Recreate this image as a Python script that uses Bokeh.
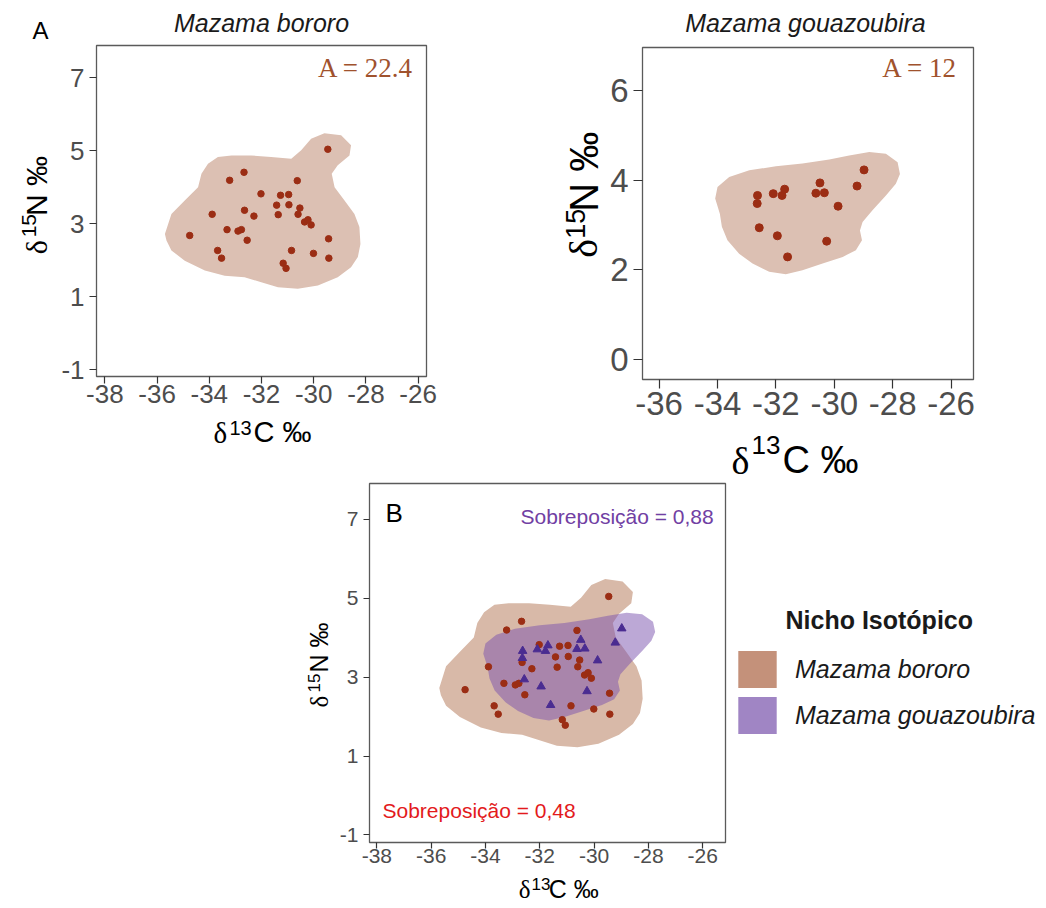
import math
from bokeh.plotting import figure
from bokeh.models import Range1d, FixedTicker, Label, Legend, LegendItem, Spacer
from bokeh.layouts import column, row
from bokeh.embed import file_html
from bokeh.resources import INLINE

# ---------------- data ----------------
bororo_d13C = [-34.75, -33.89, -33.68, -33.53, -33.32, -33.22, -32.90, -32.77, -32.67, -32.65,
               -32.55, -32.29, -32.02, -31.42, -31.36, -31.27, -30.96, -30.95, -31.17, -31.06,
               -30.85, -30.63, -30.53, -30.60, -30.35, -30.22, -30.10, -30.01, -29.46, -29.43, -29.42]
bororo_d15N = [2.68, 3.26, 2.27, 2.06, 2.84, 4.19, 2.80, 2.84, 4.41, 3.37,
               2.55, 3.21, 3.82, 3.51, 3.25, 3.78, 3.80, 3.52, 1.92, 1.78,
               2.27, 4.18, 3.43, 3.26, 3.05, 3.11, 2.97, 2.19, 5.04, 2.59, 2.06]

gouaz_d13C = [-32.63, -32.64, -32.09, -31.79, -31.70, -32.57, -31.95, -31.60, -30.49, -30.63,
              -30.34, -29.87, -30.26, -29.22, -28.98]
gouaz_d15N = [3.66, 3.48, 3.70, 3.66, 3.80, 2.94, 2.76, 2.29, 3.94, 3.71,
              3.72, 3.42, 2.64, 3.87, 4.23]

# niche outlines (density contour) in data units
bororo_niche_x = [-35.70, -35.45, -34.94, -34.43, -34.30, -34.05, -33.67, -33.15, -32.39, -31.63,
                  -30.86, -30.48, -30.10, -29.59, -28.95, -28.57, -28.63, -29.08, -29.31, -29.20,
                  -28.82, -28.44, -28.25, -28.21, -28.31, -28.57, -29.08, -29.84, -30.61, -31.37,
                  -32.01, -32.65, -33.41, -34.17, -34.94, -35.45, -35.64]
bororo_niche_y = [2.72, 3.27, 3.64, 4.00, 4.37, 4.64, 4.83, 4.87, 4.87, 4.83,
                  4.78, 5.01, 5.33, 5.48, 5.42, 5.15, 4.87, 4.60, 4.37, 4.00,
                  3.64, 3.27, 2.91, 2.45, 2.09, 1.81, 1.54, 1.31, 1.22, 1.26,
                  1.40, 1.54, 1.58, 1.72, 1.99, 2.27, 2.54]

gouaz_niche_x = [-34.08, -34.00, -33.60, -32.91, -32.00, -31.09, -30.17, -29.49, -28.80, -28.23,
                 -27.83, -27.75, -27.89, -28.23, -28.69, -29.03, -29.12, -29.05, -29.26, -29.71,
                 -30.40, -31.09, -31.66, -32.23, -32.80, -33.26, -33.66, -33.85, -33.92]
gouaz_niche_y = [3.59, 3.85, 4.07, 4.22, 4.31, 4.37, 4.46, 4.55, 4.63, 4.59,
                 4.40, 4.14, 3.92, 3.66, 3.33, 3.07, 2.88, 2.66, 2.44, 2.29,
                 2.14, 1.99, 1.90, 1.96, 2.14, 2.36, 2.66, 2.96, 3.25]

species = ["Mazama bororo", "Mazama gouazoubira"]
area_text = ["A = 22.4", "A = 12"]
overlap_text = ["Sobreposição = 0,88", "Sobreposição = 0,48"]
legend_title = "Nicho Isotópico"

ticks_x_A1 = [-38, -36, -34, -32, -30, -28, -26]
ticks_y_A1 = [-1, 1, 3, 5, 7]
ticks_x_A2 = [-36, -34, -32, -30, -28, -26]
ticks_y_A2 = [0, 2, 4, 6]
ticks_x_B = [-38, -36, -34, -32, -30, -28, -26]
ticks_y_B = [-1, 1, 3, 5, 7]

# ---------------- styles ----------------
SANS = "Liberation Sans"
SERIF = "Liberation Serif"
BRO_FILL = "#dcc0b3"
BRO_FILL_B = "#d8b9a8"
BRO_PT = "#9b2d14"
GOU_FILL_B = "#7a52ae"
GOU_PT = "#4a2c91"
TXT_BROWN = "#a0522d"
TXT_PURPLE = "#7140a3"
TXT_RED = "#e31a1c"
TICK_GREY = "#4d4d4d"
VERT = math.pi / 2


def make_fig(xr, yr, fw, fh, bl, br, bt, bb):
    p = figure(x_range=Range1d(*xr), y_range=Range1d(*yr), title=None,
               frame_width=fw, frame_height=fh,
               min_border_left=bl, min_border_right=br, min_border_top=bt, min_border_bottom=bb,
               output_backend="svg", toolbar_location=None, tools="")
    p.xgrid.visible = False
    p.ygrid.visible = False
    p.background_fill_color = "white"
    p.border_fill_color = "white"
    p.outline_line_color = "#5a5a5a"
    p.outline_line_width = 1.3
    return p


def style_axes(p, xt, yt, size, tick_out, xstand, ystand):
    for ax, t in ((p.xaxis[0], xt), (p.yaxis[0], yt)):
        ax.ticker = FixedTicker(ticks=t)
        ax.major_label_overrides = {v: str(v) for v in t}
        ax.axis_line_color = None
        ax.major_tick_in = 0
        ax.major_tick_out = tick_out
        ax.major_tick_line_color = "#333333"
        ax.major_tick_line_width = 1.2
        ax.minor_tick_line_color = None
        ax.major_label_text_font = SANS
        ax.major_label_text_font_size = f"{size}px"
        ax.major_label_text_color = TICK_GREY
    p.xaxis[0].major_label_standoff = xstand
    p.yaxis[0].major_label_standoff = ystand


def strip(w, h):
    s = figure(width=w, height=h, x_range=Range1d(0, w), y_range=Range1d(0, h), title=None,
               min_border=0, x_axis_type=None, y_axis_type=None,
               output_backend="svg", toolbar_location=None, tools="")
    s.outline_line_color = None
    s.background_fill_color = "white"
    s.border_fill_color = "white"
    return s


def mid_shift(size, font):
    # distance from the alphabetic baseline up to the middle of the em box
    return (0.34 if font == SERIF else 0.35) * size


def lab(xl, yl, text, size, font=SANS, style="normal", color="#000000",
        align="left", angle=0.0):
    return Label(x=xl, y=yl, x_units="data", y_units="data", text=text,
                 text_font=font, text_font_size=f"{size}px", text_font_style=style,
                 text_color=color, text_align=align, text_baseline="middle", angle=angle)


def put_strip(s, box, px, py, text, size, font=SANS, angle=0.0, **kw):
    # box = (page left, page top, height) of the strip; (px, py) = baseline start
    left, top, h = box
    k = mid_shift(size, font)
    xl, yl = px - left, top + h - py
    if angle == 0.0:
        yl += k
    else:
        xl -= k
    s.add_layout(lab(xl, yl, text, size, font=font, angle=angle, **kw))


def put(p, frame, px, py, text, size, font=SANS, **kw):
    # frame = (page left, page bottom) of a plot frame; (px, py) = baseline point
    fl, fb = frame
    lb = lab(p.x_range.start, p.y_range.start, text, size, font=font, **kw)
    lb.x_offset = px - fl
    lb.y_offset = fb - py + mid_shift(size, font)
    p.add_layout(lb)


# ---------------- panel A1 : Mazama bororo ----------------
F1 = (96, 376)
p1 = make_fig((-38.32, -25.68), (-1.18, 7.88), 330, 331, 42, 124, 2, 38)
style_axes(p1, ticks_x_A1, ticks_y_A1, 26, 7, 1, 5)
p1.patch(bororo_niche_x, bororo_niche_y, fill_color=BRO_FILL, line_color=None)
p1.scatter(bororo_d13C, bororo_d15N, size=6.5, color=BRO_PT)
put(p1, F1, 413, 77, area_text[0], 27, font=SERIF, color=TXT_BROWN, align="right")

HA_box = (0, 0, 43)
HA = strip(550, 43)
put_strip(HA, HA_box, 32, 38, "A", 24)
put_strip(HA, HA_box, 261, 31, species[0], 25, style="italic", color="#1a1a1a", align="center")

YL1_box = (0, 43, 371)
YL1 = strip(54, 371)
put_strip(YL1, YL1_box, 46, 277, "δ", 30, font=SERIF, angle=VERT)
put_strip(YL1, YL1_box, 36, 258, "15", 21, angle=VERT)
put_strip(YL1, YL1_box, 46, 234, "N ‰", 30, angle=VERT)

XL1_box = (0, 414, 68)
XL1 = strip(550, 68)
put_strip(XL1, XL1_box, 213, 442, "δ", 29, font=SERIF)
put_strip(XL1, XL1_box, 229, 434, "13", 20)
put_strip(XL1, XL1_box, 253, 442, "C ‰", 29)

# ---------------- panel A2 : Mazama gouazoubira ----------------
F2 = (640, 379)
p2 = make_fig((-36.57, -25.23), (-0.445, 6.96), 331, 332, 33, 30, 2, 48)
style_axes(p2, ticks_x_A2, ticks_y_A2, 33, 9, 3, 5)
p2.patch(gouaz_niche_x, gouaz_niche_y, fill_color=BRO_FILL, line_color=None)
p2.scatter(gouaz_d13C, gouaz_d15N, size=8, color=BRO_PT)
put(p2, F2, 955, 77, area_text[1], 27, font=SERIF, color=TXT_BROWN, align="right")

HB_box = (550, 0, 45)
HB = strip(451, 45)
put_strip(HB, HB_box, 805, 31, species[1], 25, style="italic", color="#1a1a1a", align="center")

YL2_box = (550, 45, 382)
YL2 = strip(57, 382)
put_strip(YL2, YL2_box, 597, 287, "δ", 40, font=SERIF, angle=VERT)
put_strip(YL2, YL2_box, 584, 265, "15", 27, angle=VERT)
put_strip(YL2, YL2_box, 597, 234, "N ‰", 40, angle=VERT)

XL2_box = (550, 427, 55)
XL2 = strip(451, 55)
put_strip(XL2, XL2_box, 731, 473, "δ", 38, font=SERIF)
put_strip(XL2, XL2_box, 751, 454, "13", 26)
put_strip(XL2, XL2_box, 782, 473, "C ‰", 38)

# ---------------- panel B : overlap ----------------
F3 = (367, 842)
p3 = make_fig((-38.27, -25.16), (-1.19, 7.90), 356, 359, 31, 2, 1, 30)
style_axes(p3, ticks_x_B, ticks_y_B, 21, 6, 0, 5)
p3.patch(bororo_niche_x, bororo_niche_y, fill_color=BRO_FILL_B, line_color=None)
p3.patch(gouaz_niche_x, gouaz_niche_y, fill_color=GOU_FILL_B, fill_alpha=0.5, line_color=None)
p3.scatter(bororo_d13C, bororo_d15N, size=6.5, color=BRO_PT)
p3.scatter(gouaz_d13C, gouaz_d15N, size=8.5, marker="triangle", color=GOU_PT)
put(p3, F3, 383, 522, "B", 26)
put(p3, F3, 518, 523, overlap_text[0], 21, color=TXT_PURPLE)
put(p3, F3, 380, 817, overlap_text[1], 21, color=TXT_RED)

YL3_box = (296, 482, 390)
YL3 = strip(40, 390)
put_strip(YL3, YL3_box, 327, 707, "δ", 25, font=SERIF, angle=VERT)
put_strip(YL3, YL3_box, 319, 692, "15", 17, angle=VERT)
put_strip(YL3, YL3_box, 327, 672, "N ‰", 25, angle=VERT)

XL3_box = (336, 872, 34)
XL3 = strip(389, 34)
put_strip(XL3, XL3_box, 500, 897, "δ", 25, font=SERIF)
put_strip(XL3, XL3_box, 514, 889, "13", 17)
put_strip(XL3, XL3_box, 533, 897, "C ‰", 25)

LEG_box = (725, 482, 390)
LEG = strip(316, 390)
put_strip(LEG, LEG_box, 783, 628, legend_title, 25, style="bold", color="#1a1a1a")
nan = float("nan")
key_b = LEG.patch(x=[nan], y=[nan], fill_color="#c4917a", line_color=None)
key_g = LEG.patch(x=[nan], y=[nan], fill_color="#a085c4", line_color=None)
legend = Legend(items=[LegendItem(label=species[0], renderers=[key_b]),
                       LegendItem(label=species[1], renderers=[key_g])],
                location=(6, 134), glyph_width=48, glyph_height=46, spacing=0,
                label_standoff=14, padding=0, margin=0,
                label_text_font=SANS, label_text_font_size="25px",
                label_text_font_style="italic", label_text_color="#1a1a1a",
                border_line_color=None, background_fill_alpha=0)
LEG.add_layout(legend)

colA = column(HA, row(YL1, p1), XL1)
colB = column(HB, row(YL2, p2), XL2)
row2 = row(Spacer(width=296, height=390), YL3, column(p3, XL3), LEG)
layout = column(row(colA, colB), row2)

open("out.html", "w").write(file_html(layout, INLINE))
